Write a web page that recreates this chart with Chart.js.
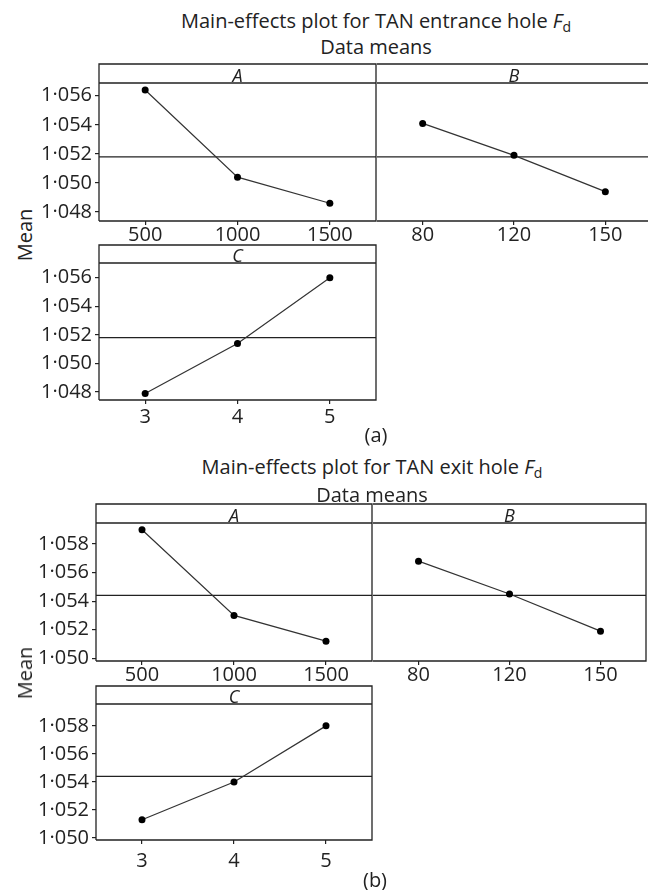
<!DOCTYPE html>
<html>
<head>
<meta charset="utf-8">
<script src="https://cdn.jsdelivr.net/npm/chart.js@4.4.1/dist/chart.umd.min.js"></script>
<style>
  body { margin: 0; background: #fff; }
  #page { position: relative; width: 648px; height: 890px; overflow: hidden; font-family: "Open Sans", sans-serif; color: #222; }
  #page canvas { position: absolute; }
  .txt { position: absolute; white-space: nowrap; font-size: 20px; line-height: 26px; transform: translate(-50%, -50%); }
  .ylab { transform: translate(-50%, -50%) rotate(-90deg); }
  sub { font-size: 14px; vertical-align: -4px; line-height: 0; }
</style>
</head>
<body>
<div id="page"></div>
<script>
// factor levels
const levelsA = ["500", "1000", "1500"];
const levelsB = ["80", "120", "150"];
const levelsC = ["3", "4", "5"];

// (a) TAN entrance hole Fd
const entranceA = [1.0564, 1.0504, 1.0486];
const entranceB = [1.0541, 1.0519, 1.0494];
const entranceC = [1.0479, 1.0514, 1.0560];
const entranceMean = 1.0518;
const entranceTicks = [1.048, 1.050, 1.052, 1.054, 1.056];

// (b) TAN exit hole Fd
const exitA = [1.0590, 1.0530, 1.0512];
const exitB = [1.0568, 1.0545, 1.0519];
const exitC = [1.0513, 1.0540, 1.0580];
const exitMean = 1.0544;
const exitTicks = [1.050, 1.052, 1.054, 1.056, 1.058];

const page = document.getElementById("page");

function addText(html, x, y, cls) {
    const d = document.createElement("div");
    d.className = "txt" + (cls ? " " + cls : "");
    d.innerHTML = html;
    d.style.left = x + "px";
    d.style.top = y + "px";
    page.appendChild(d);
}

// one facet of the main-effects plot
function makePanel(p) {
    const yw = p.showY ? 60 : 1;
    const xh = 30;
    const x0 = p.left - yw;
    const y0 = p.stripTop - 1;
    const w = p.right - x0 + 2;
    const h = p.bottom + xh - y0;

    const canvas = document.createElement("canvas");
    canvas.width = w;
    canvas.height = h;
    canvas.style.left = x0 + "px";
    canvas.style.top = y0 + "px";
    canvas.style.width = w + "px";
    canvas.style.height = h + "px";
    page.appendChild(canvas);

    const stripPlugin = {
        id: "strip",
        beforeDatasetsDraw(chart) {
            const a = chart.chartArea, ctx = chart.ctx;
            const y = chart.scales.y.getPixelForValue(p.mean);
            ctx.save();
            ctx.strokeStyle = "#222";
            ctx.lineWidth = 1.3;
            ctx.beginPath();
            ctx.moveTo(a.left, y);
            ctx.lineTo(a.right, y);
            ctx.stroke();
            ctx.restore();
        },
        afterDraw(chart) {
            const a = chart.chartArea, ctx = chart.ctx;
            ctx.save();
            ctx.strokeStyle = "#222";
            ctx.lineWidth = 1.3;
            ctx.beginPath();
            // right panels share the left edge with the panel beside them
            if (p.showY) {
                ctx.moveTo(a.left, a.bottom);
                ctx.lineTo(a.left, 1);
            } else {
                ctx.moveTo(a.left, 1);
            }
            ctx.lineTo(a.right, 1);
            ctx.lineTo(a.right, a.bottom);
            ctx.lineTo(a.left, a.bottom);
            ctx.moveTo(a.left, a.top);
            ctx.lineTo(a.right, a.top);
            ctx.stroke();
            ctx.fillStyle = "#222";
            ctx.font = "italic 18px 'Open Sans'";
            ctx.textAlign = "center";
            ctx.textBaseline = "alphabetic";
            ctx.fillText(p.label, (a.left + a.right) / 2, a.top - 1.5);
            ctx.restore();
        }
    };

    new Chart(canvas, {
        type: "line",
        data: {
            labels: p.labels,
            datasets: [{
                data: p.values,
                borderColor: "#333",
                borderWidth: 1.2,
                pointRadius: 3.5,
                pointBackgroundColor: "#000",
                pointBorderWidth: 0,
                tension: 0
            }]
        },
        options: {
            responsive: false,
            animation: false,
            layout: {
                autoPadding: false,
                padding: { top: p.top - y0, left: p.showY ? 0 : 1, right: 2, bottom: 0 }
            },
            plugins: { legend: { display: false }, tooltip: { enabled: false } },
            scales: {
                x: {
                    type: "category",
                    offset: true,
                    afterFit: s => {
                        s.height = xh;
                        s.paddingLeft = 0;
                        s.paddingRight = 0;
                    },
                    grid: { drawOnChartArea: false, drawTicks: true, tickLength: 4, color: "#222", lineWidth: 1.2 },
                    border: { display: false },
                    ticks: { color: "#222", font: { family: "Open Sans", size: 20 }, padding: p.xPad, maxRotation: 0, autoSkip: false }
                },
                y: {
                    type: "linear",
                    display: p.showY,
                    bounds: "data",
                    min: p.min,
                    max: p.max,
                    afterFit: s => {
                        s.width = yw;
                        s.paddingTop = 0;
                        s.paddingBottom = 0;
                    },
                    afterBuildTicks: s => { s.ticks = p.ticks.map(v => ({ value: v })); },
                    grid: { drawOnChartArea: false, tickLength: 4, color: "#222", lineWidth: 1.2 },
                    border: { display: false },
                    ticks: {
                        color: "#222",
                        font: { family: "Open Sans", size: 20 },
                        padding: 3,
                        callback: v => v.toFixed(3).replace(".", "\u00b7")
                    }
                }
            }
        },
        plugins: [stripPlugin]
    });
}

// ---- (a) entrance ----
addText("Main-effects plot for TAN entrance hole <i>F</i><sub>d</sub>", 376, 21);
addText("Data means", 376, 47);
makePanel({ label: "A", labels: levelsA, values: entranceA, mean: entranceMean, ticks: entranceTicks,
    showY: true, left: 99, right: 376, stripTop: 64, top: 83, bottom: 221, min: 1.04738, max: 1.05688, xPad: -2 });
makePanel({ label: "B", labels: levelsB, values: entranceB, mean: entranceMean, ticks: entranceTicks,
    showY: false, left: 376, right: 651, stripTop: 64, top: 83, bottom: 221, min: 1.04738, max: 1.05688, xPad: -2 });
makePanel({ label: "C", labels: levelsC, values: entranceC, mean: entranceMean, ticks: entranceTicks,
    showY: true, left: 99, right: 376, stripTop: 245, top: 263, bottom: 400, min: 1.04744, max: 1.05703, xPad: 1 });
addText("Mean", 25, 235, "ylab");
addText("(a)", 376, 435);

// ---- (b) exit ----
addText("Main-effects plot for TAN exit hole <i>F</i><sub>d</sub>", 372, 467);
addText("Data means", 372, 495);
makePanel({ label: "A", labels: levelsA, values: exitA, mean: exitMean, ticks: exitTicks,
    showY: true, left: 96, right: 372, stripTop: 504, top: 523, bottom: 661, min: 1.04981, max: 1.05947, xPad: -2 });
makePanel({ label: "B", labels: levelsB, values: exitB, mean: exitMean, ticks: exitTicks,
    showY: false, left: 372, right: 646, stripTop: 504, top: 523, bottom: 661, min: 1.04981, max: 1.05947, xPad: -2 });
makePanel({ label: "C", labels: levelsC, values: exitC, mean: exitMean, ticks: exitTicks,
    showY: true, left: 96, right: 372, stripTop: 686, top: 704, bottom: 840, min: 1.04986, max: 1.05956, xPad: 5 });
addText("Mean", 25, 673, "ylab");
addText("(b)", 375, 880);
</script>
</body>
</html>
